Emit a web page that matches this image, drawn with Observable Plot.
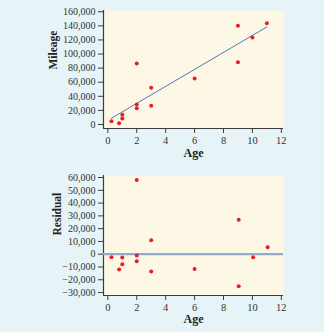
<!DOCTYPE html>
<html>
<head>
<meta charset="utf-8">
<script src="https://cdn.jsdelivr.net/npm/d3@7"></script>
<script src="https://cdn.jsdelivr.net/npm/@observablehq/plot@0.6"></script>
<style>
  html, body { margin: 0; padding: 0; background: #e6f4f8; }
  #chart { width: 324px; height: 332px; }
  svg { display: block; }
</style>
</head>
<body>
<div id="chart"></div>
<script>
// Data
const age      = [0.25, 0.78, 1, 1, 2, 2, 2, 3, 3, 6, 9, 9, 10, 11];
const mileage  = [4700, 1800, 8500, 13700, 86500, 28400, 23100, 52000, 26500, 65200, 140000, 88400, 123400, 143700];
const residual = [-2300, -12000, -7800, -2600, 58000, -1000, -5500, -13600, 11000, -11500, 26900, -25000, -2300, 5500];
const residAge = [0.25, 0.78, 1, 1, 2, 2, 2, 3, 3, 6, 9.05, 9.05, 10.05, 11.05];
const xTicks = [0, 2, 4, 6, 8, 10, 12];
const mileageTicks = [0, 20000, 40000, 60000, 80000, 100000, 120000, 140000, 160000];
const residualTicks = [-30000, -20000, -10000, 0, 10000, 20000, 30000, 40000, 50000, 60000];

const xDomain = [-0.3, 12.15];
const yDomainTop = [-5700, 161800];
const yDomainBot = [-32300, 61600];

const topData = age.map((a, i) => ({age: a, mileage: mileage[i]}));
const botData = residAge.map((a, i) => ({age: a, residual: residual[i]}));

const fmt = d3.format(",");
const font = "'Liberation Serif', 'Times New Roman', serif";
const axisColor = "#3c3c3c";
const bg = "#fdf8e6";
const red = "#e61e28";

function common(yDomain, height, mt, mb) {
  return {
    width: 324, height, marginTop: mt, marginBottom: mb, marginLeft: 103, marginRight: 41,
    style: {fontFamily: font, fontSize: "10px", color: "#333", background: "transparent", overflow: "visible"},
    x: {domain: xDomain},
    y: {domain: yDomain}
  };
}

const topChart = Plot.plot({
  ...common(yDomainTop, 166, 10, 38),
  marks: [
    Plot.frame({fill: bg, stroke: null}),
    Plot.axisY({ticks: mileageTicks, tickFormat: fmt, tickSize: 5, tickPadding: 3, label: null, stroke: axisColor, fill: "#333"}),
    Plot.axisX({ticks: xTicks, tickSize: 5, tickPadding: 3, label: null, stroke: axisColor, fill: "#333", fontSize: 10.5}),
    Plot.ruleX([xDomain[0]], {stroke: axisColor, strokeWidth: 1.2}),
    Plot.ruleY([yDomainTop[0]], {stroke: axisColor, strokeWidth: 1.2}),
    Plot.linearRegressionY(topData, {x: "age", y: "mileage", stroke: "#4a7ab8", strokeWidth: 1, ci: 0}),
    Plot.dot(topData, {x: "age", y: "mileage", r: 2, fill: red, stroke: null}),
    Plot.text(["Mileage"], {frameAnchor: "left", rotate: -90, dx: -50, fontWeight: "bold", fontSize: 11.5, fill: "#222"}),
    Plot.text(["Age"], {frameAnchor: "bottom", dy: 28, fontWeight: "bold", fontSize: 12, fill: "#222"})
  ]
});

const bottomChart = Plot.plot({
  ...common(yDomainBot, 166, 9, 37),
  marks: [
    Plot.frame({fill: bg, stroke: null}),
    Plot.axisY({ticks: residualTicks, tickFormat: fmt, tickSize: 5, tickPadding: 3, label: null, stroke: axisColor, fill: "#333"}),
    Plot.axisX({ticks: xTicks, tickSize: 5, tickPadding: 3, label: null, stroke: axisColor, fill: "#333", fontSize: 10.5}),
    Plot.ruleX([xDomain[0]], {stroke: axisColor, strokeWidth: 1.2}),
    Plot.ruleY([yDomainBot[0]], {stroke: axisColor, strokeWidth: 1.2}),
    Plot.ruleY([0], {stroke: "#8eaacf", strokeWidth: 2.2}),
    Plot.dot(botData, {x: "age", y: "residual", r: 2, fill: red, stroke: null}),
    Plot.text(["Residual"], {frameAnchor: "left", rotate: -90, dx: -46, fontWeight: "bold", fontSize: 11.5, fill: "#222"}),
    Plot.text(["Age"], {frameAnchor: "bottom", dy: 27, fontWeight: "bold", fontSize: 12, fill: "#222"})
  ]
});

const el = document.getElementById("chart");
el.appendChild(topChart);
el.appendChild(bottomChart);
</script>
</body>
</html>
